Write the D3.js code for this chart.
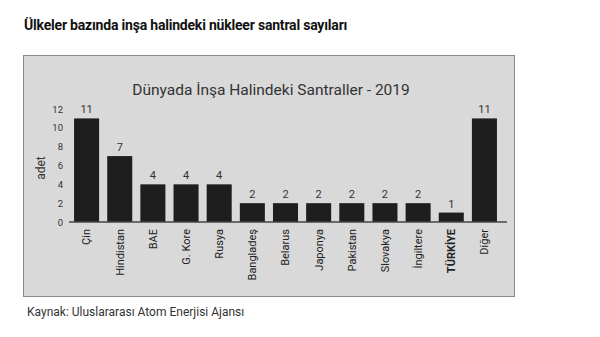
<!DOCTYPE html>
<html><head><meta charset="utf-8">
<script src="https://cdn.jsdelivr.net/npm/d3@7"></script>
<style>body{margin:0;background:#fff}svg{display:block}</style>
</head><body>
<script>
const categories = ["Çin","Hindistan","BAE","G. Kore","Rusya","Bangladeş","Belarus","Japonya","Pakistan","Slovakya","İngiltere","TÜRKİYE","Diğer"];
const values = [11,7,4,4,4,2,2,2,2,2,2,1,11];
const yTicks = [0,2,4,6,8,10,12];

const W=600,H=337;
const svg=d3.select("body").append("svg").attr("width",W).attr("height",H);
const font="Roboto, 'Noto Sans', sans-serif";

svg.append("text").attr("x",24).attr("y",30).attr("font-family",font).attr("font-weight","bold")
  .attr("font-size",14).attr("letter-spacing",-0.2).attr("fill","#111").text("Ülkeler bazında inşa halindeki nükleer santral sayıları");

svg.append("rect").attr("x",23.5).attr("y",55.5).attr("width",491).attr("height",241)
  .attr("fill","#d9d9d9").attr("stroke","#8a8a8a").attr("stroke-width",1);

svg.append("text").attr("x",271).attr("y",95).attr("text-anchor","middle").attr("font-family",font)
  .attr("font-size",15.5).attr("fill","#333").text("Dünyada İnşa Halindeki Santraller - 2019");

const x=d3.scaleBand().domain(categories).range([70,501]).paddingInner(0.245).paddingOuter(0.1225);
const y=d3.scaleLinear().domain([0,12]).range([222,109]);

const g=svg.append("g");
g.selectAll("rect.bar").data(values).join("rect").attr("class","bar")
  .attr("x",(d,i)=>x(categories[i])).attr("width",x.bandwidth())
  .attr("y",d=>y(d)).attr("height",d=>y(0)-y(d)).attr("fill","#1e1e1e");

g.selectAll("text.val").data(values).join("text").attr("class","val")
  .attr("x",(d,i)=>x(categories[i])+x.bandwidth()/2).attr("y",d=>y(d)-5)
  .attr("text-anchor","middle").attr("font-family",font).attr("font-size",11).attr("fill","#333").text(d=>d);

const yAxis=d3.axisLeft(y).tickValues(yTicks).tickSize(0).tickPadding(0);
const ya=svg.append("g").attr("transform","translate(63,0)").call(yAxis);
ya.select(".domain").remove();
ya.selectAll("text").attr("font-family",font).attr("font-size",9.5).attr("fill","#333").attr("dy","0.32em");

svg.append("line").attr("x1",69).attr("x2",507).attr("y1",222).attr("y2",222).attr("stroke","#444").attr("stroke-width",1.5);

const xAxis=d3.axisBottom(x).tickSize(0).tickPadding(0);
const xa=svg.append("g").attr("transform","translate(0,229)").call(xAxis);
xa.select(".domain").remove();
xa.selectAll("text").attr("font-family",font).attr("font-size",11).attr("fill","#222")
  .attr("transform","rotate(-90)").attr("text-anchor","end").attr("x",0).attr("y",0).attr("dy","0.35em")
  .attr("font-weight",d=>d==="TÜRKİYE"?"bold":"normal");

svg.append("text").attr("transform","translate(45,168) rotate(-90)").attr("text-anchor","middle")
  .attr("font-family",font).attr("font-size",12).attr("fill","#333").text("adet");

svg.append("text").attr("x",27).attr("y",316).attr("font-family",font).attr("font-size",12)
  .attr("fill","#333").text("Kaynak: Uluslararası Atom Enerjisi Ajansı");
</script>
</body></html>
